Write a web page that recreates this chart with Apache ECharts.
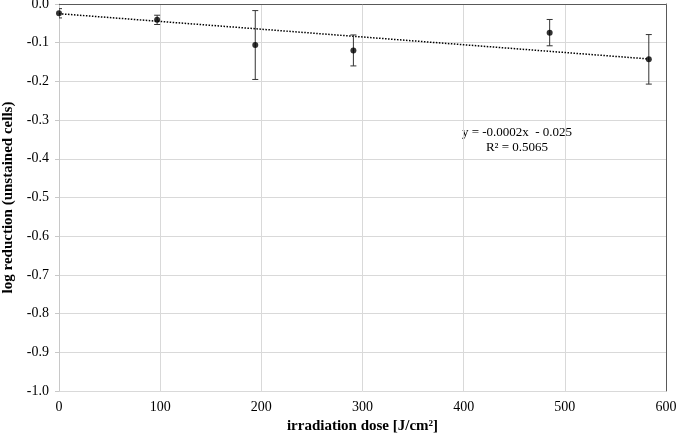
<!DOCTYPE html>
<html>
<head>
<meta charset="utf-8">
<script src="https://cdn.jsdelivr.net/npm/echarts@6/dist/echarts.min.js"></script>
<style>html,body{margin:0;padding:0;background:#fff}#c{width:676px;height:435px}</style>
</head>
<body>
<div id="c"></div>
<script>
var doses = [0, 97, 194, 291, 485, 583];
var logReduction = [-0.024, -0.041, -0.106, -0.120, -0.074, -0.143];
var errors = [0.012, 0.012, 0.089, 0.040, 0.034, 0.064];
var trendX = [0, 583];
var trendY = [-0.025, -0.142];
var equationText = 'y = -0.0002x  - 0.025';
var r2Text = 'R² = 0.5065';
var xTicks = [0, 100, 200, 300, 400, 500, 600];
var yTicks = [0.0, -0.1, -0.2, -0.3, -0.4, -0.5, -0.6, -0.7, -0.8, -0.9, -1.0];

var FONT = '"Liberation Serif", "DejaVu Serif", serif';
var chart = echarts.init(document.getElementById('c'), null, {renderer: 'canvas'});

var points = doses.map(function (d, i) { return [d, logReduction[i]]; });
var errData = doses.map(function (d, i) { return [d, logReduction[i] - errors[i], logReduction[i] + errors[i]]; });
var trendData = trendX.map(function (x, i) { return [x, trendY[i]]; });

var option = {
  animation: false,
  backgroundColor: '#fff',
  grid: {left: 59, right: 10, top: 4, bottom: 44, containLabel: false, outerBoundsMode: 'none'},
  xAxis: [{
    type: 'value', min: xTicks[0], max: xTicks[xTicks.length - 1], interval: 100,
    name: 'irradiation dose [J/cm²]', nameLocation: 'middle', nameGap: 21,
    nameTextStyle: {fontFamily: FONT, fontWeight: 'bold', fontSize: 15, color: '#000'},
    axisLine: {show: true, lineStyle: {color: '#c8c8c8', width: 1}},
    axisTick: {show: false},
    axisLabel: {fontFamily: FONT, fontSize: 14, color: '#000', margin: 9},
    splitLine: {show: true, lineStyle: {color: '#d9d9d9', width: 1}}
  }, {
    type: 'value', position: 'top', min: 0, max: 600, interval: 100,
    axisLine: {show: true, onZero: false, lineStyle: {color: '#595959', width: 1}},
    axisTick: {show: false}, axisLabel: {show: false}, splitLine: {show: false}
  }],
  yAxis: [{
    type: 'value', min: -1.0, max: 0.0, interval: 0.1,
    name: 'log reduction (unstained cells)', nameLocation: 'middle', nameGap: 39,
    nameTextStyle: {fontFamily: FONT, fontWeight: 'bold', fontSize: 15, color: '#000'},
    axisLine: {show: true, onZero: false, lineStyle: {color: '#c8c8c8', width: 1}},
    axisTick: {show: true, length: 4, lineStyle: {color: '#c8c8c8'}},
    axisLabel: {fontFamily: FONT, fontSize: 14, color: '#000', margin: 10,
      formatter: function (v) { return (Math.abs(v) < 1e-9 ? 0 : v).toFixed(1); }},
    splitLine: {show: true, lineStyle: {color: '#d9d9d9', width: 1}}
  }, {
    type: 'value', position: 'right', min: -1.0, max: 0.0, interval: 0.1,
    axisLine: {show: true, onZero: false, lineStyle: {color: '#595959', width: 1}},
    axisTick: {show: false}, axisLabel: {show: false}, splitLine: {show: false}
  }],
  series: [{
    type: 'line', data: trendData, showSymbol: false, symbol: 'none',
    lineStyle: {color: '#000', width: 1.5, type: [1.5, 1.5]}, z: 2
  }, {
    type: 'custom', data: errData, z: 3, clip: true,
    renderItem: function (params, api) {
      var x = api.value(0);
      var lo = api.coord([x, api.value(1)]);
      var hi = api.coord([x, api.value(2)]);
      var cw = 3;
      var st = {stroke: '#333', lineWidth: 1};
      return {type: 'group', children: [
        {type: 'line', shape: {x1: lo[0], y1: lo[1], x2: hi[0], y2: hi[1]}, style: st},
        {type: 'line', shape: {x1: lo[0] - cw, y1: lo[1], x2: lo[0] + cw, y2: lo[1]}, style: st},
        {type: 'line', shape: {x1: hi[0] - cw, y1: hi[1], x2: hi[0] + cw, y2: hi[1]}, style: st}
      ]};
    }
  }, {
    type: 'scatter', data: points, symbol: 'circle', symbolSize: 6,
    itemStyle: {color: '#000'}, z: 4
  }],
  graphic: [{
    type: 'text', x: 517, y: 126,
    style: {text: equationText, font: '13px ' + FONT, fill: '#000', align: 'center', verticalAlign: 'top'}
  }, {
    type: 'text', x: 517, y: 141,
    style: {text: r2Text, font: '13px ' + FONT, fill: '#000', align: 'center', verticalAlign: 'top'}
  }]
};
chart.setOption(option);
</script>
</body>
</html>
